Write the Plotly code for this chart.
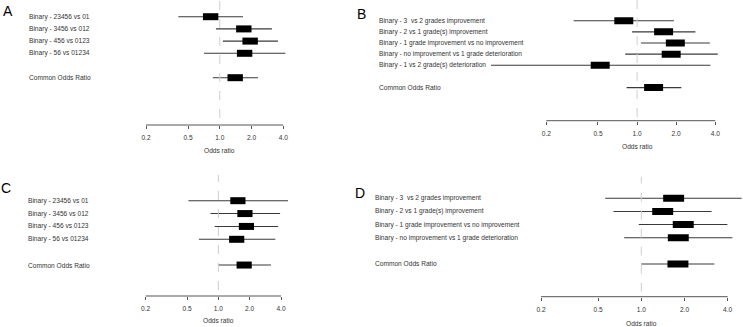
import math
import plotly.graph_objects as go

W, H = 743, 327

# ---------------- data ----------------
labels_ac = ["Binary - 23456 vs 01", "Binary - 3456 vs 012",
             "Binary - 456 vs 0123", "Binary - 56 vs 01234"]
labels_b = ["Binary - 3  vs 2 grades improvement",
            "Binary - 2 vs 1 grade(s) improvement",
            "Binary - 1 grade improvement vs no improvement",
            "Binary - no improvement vs 1 grade deterioration",
            "Binary - 1 vs 2 grade(s) deterioration"]
labels_d = labels_b[:4]
common_label = "Common Odds Ratio"

a_or = [0.82, 1.69, 1.94, 1.72]
a_lo = [0.405, 0.92, 1.07, 0.71]
a_hi = [1.66, 3.12, 3.56, 4.18]
a_common = [1.40, 0.86, 2.30]

b_or = [0.79, 1.60, 1.97, 1.83, 0.52]
b_lo = [0.325, 0.915, 1.07, 0.81, 0.075]
b_hi = [1.92, 2.81, 3.63, 4.18, 3.67]
b_common = [1.34, 0.83, 2.19]

c_or = [1.54, 1.80, 1.86, 1.50]
c_lo = [0.515, 0.84, 0.92, 0.65]
c_hi = [4.67, 3.92, 3.75, 3.53]
c_common = [1.77, 0.99, 3.21]

d_or = [1.68, 1.41, 1.96, 1.81]
d_lo = [0.56, 0.64, 0.96, 0.76]
d_hi = [5.0, 3.09, 3.98, 4.31]
d_common = [1.80, 1.00, 3.23]

tick_vals = [0.2, 0.5, 1.0, 2.0, 4.0]
tick_text = ["0.2", "0.5", "1.0", "2.0", "4.0"]
x_title = "Odds ratio"

# ---------------- layout geometry (pixels) ----------------
panels = [
    dict(letter="A", labels=labels_ac, orv=a_or, lo=a_lo, hi=a_hi, com=a_common,
         L=0, R=371, p02=146, p4=283.3, T=0, B=125, y1=16.7, s=12.2, dashB=118,
         labx=27, titley=150.7, let_xy=(8, 11)),
    dict(letter="B", labels=labels_b, orv=b_or, lo=b_lo, hi=b_hi, com=b_common,
         L=372, R=743, p02=546.3, p4=715.3, T=0, B=120.7, y1=20.7, s=11.15, dashB=117,
         labx=377, titley=146, let_xy=(361, 14)),
    dict(letter="C", labels=labels_ac, orv=c_or, lo=c_lo, hi=c_hi, com=c_common,
         L=0, R=371, p02=145.7, p4=281, T=175, B=296, y1=200.7, s=12.87, dashB=290,
         labx=26, titley=320.7, let_xy=(6, 188)),
    dict(letter="D", labels=labels_d, orv=d_or, lo=d_lo, hi=d_hi, com=d_common,
         L=372, R=743, p02=541, p4=727.7, T=177, B=296.7, y1=198.3, s=13.13, dashB=291.7,
         labx=373, titley=323.3, let_xy=(360, 193)),
]

BOX_HALF = 10 ** 0.073  # half box width as a multiplicative factor (log scale)
FONT = "Liberation Sans, Arial, sans-serif"
TXT = "#333333"
FS = 6.6

fig = go.Figure()
layout = dict(template="none", width=W, height=H,
              margin=dict(l=0, r=0, t=0, b=0, autoexpand=False),
              paper_bgcolor="white", plot_bgcolor="rgba(0,0,0,0)", showlegend=False,
              font=dict(family=FONT, color=TXT, size=FS),
              annotations=[], shapes=[])

for i, p in enumerate(panels):
    k = "" if i == 0 else str(i + 1)
    xa, ya = "x" + k, "y" + k
    n = len(p["labels"])
    ys = list(range(1, n + 1)) + [n + 2]
    ors = p["orv"] + [p["com"][0]]
    los = p["lo"] + [p["com"][1]]
    his = p["hi"] + [p["com"][2]]

    # CI lines
    cx, cy = [], []
    for y, lo, hi in zip(ys, los, his):
        cx += [lo, hi, None]
        cy += [y, y, None]
    fig.add_trace(go.Scatter(x=cx, y=cy, mode="lines", xaxis=xa, yaxis=ya,
                             line=dict(color="#3a3a3a", width=1.1),
                             hoverinfo="skip"))
    # boxes
    bx, by = [], []
    for y, o in zip(ys, ors):
        bx += [o / BOX_HALF, o * BOX_HALF, None]
        by += [y, y, None]
    fig.add_trace(go.Scatter(x=bx, y=by, mode="lines", xaxis=xa, yaxis=ya,
                             line=dict(color="black", width=7),
                             hoverinfo="skip"))

    ppd = (p["p4"] - p["p02"]) / (math.log10(4) - math.log10(0.2))
    xlo = math.log10(0.2) - (p["p02"] - p["L"]) / ppd
    xhi = math.log10(4) + (p["R"] - p["p4"]) / ppd
    ybot = 1 + (p["B"] - p["y1"]) / p["s"]
    ytop = 1 - (p["y1"] - p["T"]) / p["s"]

    layout["xaxis" + k] = dict(domain=[p["L"] / W, p["R"] / W], type="log",
                               range=[xlo, xhi], anchor=ya, automargin=False,
                               tickvals=tick_vals, ticktext=tick_text,
                               ticks="outside", ticklen=3, tickwidth=1,
                               tickcolor="#555", showline=False, showgrid=False,
                               zeroline=False,
                               tickfont=dict(size=FS, color=TXT, family=FONT),
                               ticklabelstandoff=3)
    layout["yaxis" + k] = dict(domain=[1 - p["B"] / H, 1 - p["T"] / H],
                               range=[ybot, ytop], anchor=xa, visible=False,
                               automargin=False,
                               showgrid=False, zeroline=False)

    # axis line from 0.2 to 4
    layout["shapes"].append(dict(type="line", xref=xa, yref=ya + " domain",
                                 x0=0.2, x1=4, y0=0, y1=0,
                                 line=dict(color="#555", width=1)))
    # dashed reference line at 1
    layout["shapes"].append(dict(type="line", xref=xa, yref=ya + " domain",
                                 x0=1, x1=1,
                                 y0=(p["B"] - p["dashB"]) / (p["B"] - p["T"]), y1=1,
                                 line=dict(color="#cfcfcf", width=1, dash="dash")))
    # row labels
    for y, lab in zip(ys, p["labels"] + [common_label]):
        layout["annotations"].append(dict(
            xref="paper", yref=ya, x=p["labx"] / W, y=y, text=lab,
            showarrow=False, xanchor="left", yanchor="middle",
            font=dict(size=FS, color=TXT, family=FONT)))
    # axis title
    layout["annotations"].append(dict(
        xref=xa, yref="paper", x=0, y=1 - p["titley"] / H, text=x_title,
        showarrow=False, xanchor="center", yanchor="middle",
        font=dict(size=FS, color=TXT, family=FONT)))
    # panel letter
    lx, ly = p["let_xy"]
    layout["annotations"].append(dict(
        xref="paper", yref="paper", x=lx / W, y=1 - ly / H, text=p["letter"],
        showarrow=False, xanchor="center", yanchor="middle",
        font=dict(size=14, color="black", family=FONT)))

fig.update_layout(**layout)
fig.write_html("out.html", config={"displayModeBar": False},
               post_script="document.body.style.margin='0';document.body.style.overflow='hidden';")
